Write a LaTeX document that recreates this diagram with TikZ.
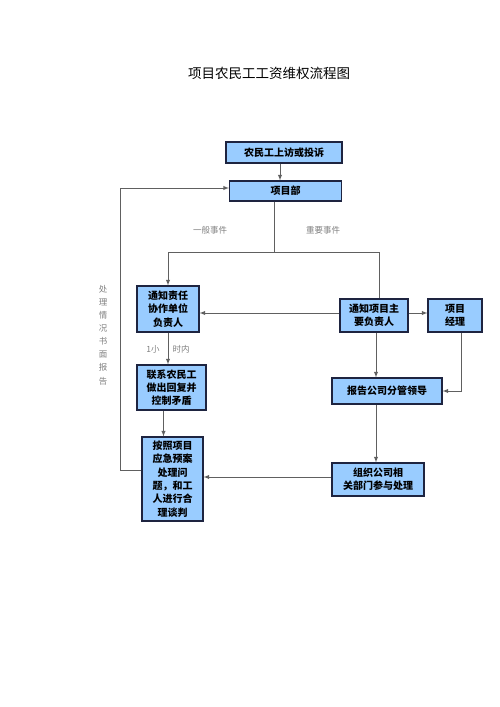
\documentclass[tikz,border=0pt]{standalone}
\usepackage{fontspec}
\setmainfont{Noto Sans CJK SC}
\usetikzlibrary{arrows}
\definecolor{boxblue}{HTML}{99CCFF}
\definecolor{boxline}{HTML}{1E2440}
\definecolor{wire}{HTML}{606060}

\begin{document}
\begin{tikzpicture}[x=1pt,y=-1pt,>=latex,
	box/.style={draw=boxline,fill=boxblue,line width=1.1pt,inner sep=0pt,align=center,
		font=\fontsize{10}{13.3}\selectfont\bfseries},
	note/.style={text=gray,font=\fontsize{8.5}{13.1}\selectfont,inner sep=0pt,align=center}]

\useasboundingbox (0,0) rectangle (500,707);

\node (title) at (269,73) {\fontsize{13.5}{16}\selectfont 项目农民工工资维权流程图};

\node[box,minimum width=116pt,minimum height=21pt]   (b1) at (284,152.5)  {农民工上访或投诉};
\node[box,minimum width=112pt,minimum height=20pt]   (b2) at (285.5,191)  {项目部};
\node[box,minimum width=62pt,minimum height=46pt]    (n1) at (168,309)    {通知责任\\协作单位\\负责人};
\node[box,minimum width=68pt,minimum height=33pt]    (n2) at (374,315.5)  {通知项目主\\要负责人};
\node[box,minimum width=54pt,minimum height=33pt]    (n3) at (455,315.5)  {项目\\经理};
\node[box,minimum width=69pt,minimum height=45pt]    (n4) at (171.5,387.5){联系农民工\\做出回复并\\控制矛盾};
\node[box,minimum width=110pt,minimum height=26pt]   (n5) at (387,391)    {报告公司分管领导};
\node[box,minimum width=61pt,minimum height=84pt]    (n6) at (172.5,479)  {按照项目\\应急预案\\处理问\\题，和工\\人进行合\\理谈判};
\node[box,minimum width=92pt,minimum height=33pt]    (n7) at (378,479.5)  {组织公司相\\关部门参与处理};

\node[note] (l1) at (210,230) {一般事件};
\node[note] (l2) at (323,230) {重要事件};
\node[note] (l3) at (153,349) {1小};
\node[note] (l4) at (181,349) {时内};
\node[note] (l5) at (103,335) {处\\理\\情\\况\\书\\面\\报\\告};

\coordinate (split) at (274,252);
\coordinate (back) at (120,470);

\begin{scope}[draw=wire,line width=0.9pt]
	\draw[->] ([xshift=-4pt]b1.south) -- ([xshift=-4pt]b1.south |- b2.north);
	\draw (split |- b2.south) -- (split);
	\draw[->] (split) -| (n1.north);
	\draw (split) -| ([xshift=5pt]n2.north);
	\draw[->] ([yshift=2.5pt]n2.west) -- ([yshift=2.5pt]n2.west -| n1.east);
	\draw[->] ([yshift=2.5pt]n2.east) -- ([yshift=2.5pt]n2.east -| n3.west);
	\draw[->] (n1.south) -- (n1.south |- n4.north);
	\draw[->] ([xshift=-8pt]n4.south) -- ([xshift=-8pt]n4.south |- n6.north);
	\draw[->] ([xshift=2pt]n2.south) -- ([xshift=2pt]n2.south |- n5.north);
	\draw[->] ([xshift=6pt]n3.south) |- (n5.east);
	\draw[->] ([xshift=2pt]n2.south |- n5.south) -- ([xshift=2pt]n2.south |- n7.north);
	\draw[->] ([yshift=2.5pt]n7.west) -- ([yshift=2.5pt]n7.west -| n6.east);
	\draw[->] ([yshift=9pt]n6.west) -- (back) |- ([yshift=3pt]b2.west);
\end{scope}

\end{tikzpicture}
\end{document}
